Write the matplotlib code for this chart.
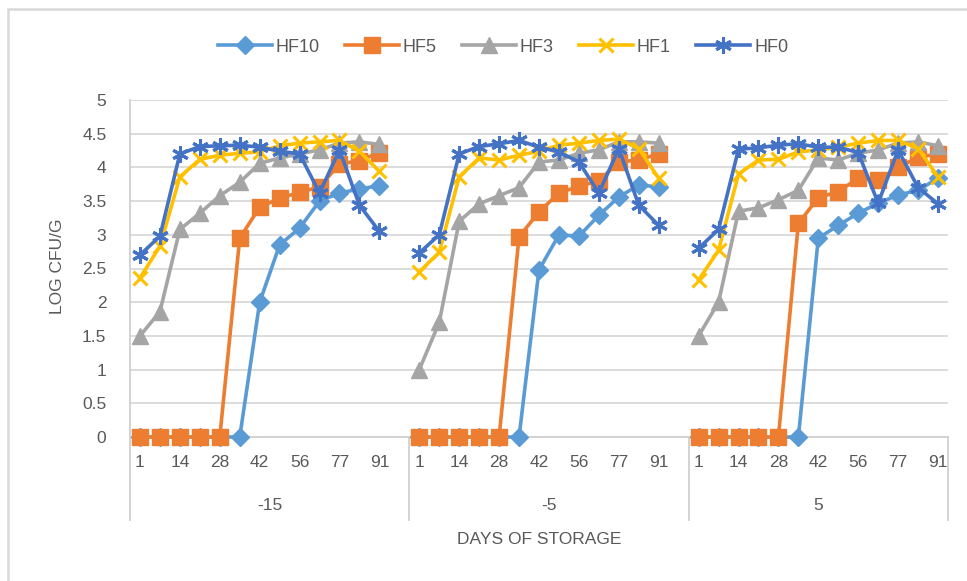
import numpy as np
import matplotlib
matplotlib.use("Agg")
import matplotlib.pyplot as plt
from matplotlib.patches import Rectangle
import matplotlib.transforms as mtransforms

plt.rcParams['font.family'] = ['Liberation Sans', 'DejaVu Sans']

# ---- data ----
temps = ["-15", "-5", "5"]
days = ["1", "7", "14", "21", "28", "35", "42", "49", "56", "63", "77", "84", "91"]
slots = [14, 14, 13]          # category slots per group (last slot of first two groups is blank)
series_names = ["HF10", "HF5", "HF3", "HF1", "HF0"]

hf10 = [[0, 0, 0, 0, 0, 0, 2.0, 2.85, 3.1, 3.5, 3.62, 3.68, 3.73],
        [0, 0, 0, 0, 0, 0, 2.48, 3.0, 2.98, 3.29, 3.56, 3.74, 3.71],
        [0, 0, 0, 0, 0, 0, 2.95, 3.14, 3.32, 3.47, 3.59, 3.66, 3.84]]
hf5 = [[0, 0, 0, 0, 0, 2.95, 3.41, 3.54, 3.63, 3.71, 4.05, 4.1, 4.22],
       [0, 0, 0, 0, 0, 2.97, 3.34, 3.62, 3.72, 3.8, 4.08, 4.11, 4.2],
       [0, 0, 0, 0, 0, 3.17, 3.55, 3.64, 3.84, 3.82, 4.0, 4.15, 4.2]]
hf3 = [[1.5, 1.86, 3.08, 3.32, 3.58, 3.78, 4.06, 4.14, 4.2, 4.26, 4.36, 4.38, 4.34],
       [1.0, 1.7, 3.2, 3.46, 3.58, 3.7, 4.08, 4.11, 4.21, 4.26, 4.38, 4.38, 4.36],
       [1.5, 2.0, 3.35, 3.4, 3.52, 3.66, 4.14, 4.11, 4.21, 4.26, 4.36, 4.38, 4.32]]
hf1 = [[2.36, 2.83, 3.86, 4.12, 4.18, 4.21, 4.23, 4.32, 4.36, 4.38, 4.4, 4.24, 3.94],
       [2.45, 2.74, 3.86, 4.14, 4.11, 4.18, 4.24, 4.33, 4.36, 4.4, 4.42, 4.28, 3.84],
       [2.33, 2.77, 3.9, 4.11, 4.12, 4.23, 4.26, 4.3, 4.36, 4.4, 4.4, 4.28, 3.86]]
hf0 = [[2.7, 2.98, 4.2, 4.31, 4.32, 4.33, 4.3, 4.24, 4.2, 3.62, 4.26, 3.44, 3.05],
       [2.73, 3.0, 4.2, 4.31, 4.35, 4.4, 4.3, 4.23, 4.08, 3.62, 4.28, 3.44, 3.14],
       [2.8, 3.08, 4.27, 4.29, 4.33, 4.35, 4.3, 4.3, 4.22, 3.47, 4.26, 3.7, 3.46]]

all_series = [hf10, hf5, hf3, hf1, hf0]
colors = ["#5B9BD5", "#ED7D31", "#A5A5A5", "#FFC000", "#4472C4"]
markers = ["D", "s", "^", "x", (6, 2, 0)]
msizes = [9, 12, 12, 10, 12]

# flatten groups into slot positions with blanks
def flatten(groups):
    out = []
    for g, vals in zip(range(len(groups)), groups):
        out.extend(vals)
        out.extend([np.nan] * (slots[g] - len(vals)))
    return np.array(out, dtype=float)

xpos = np.arange(sum(slots))

W, H = 967, 581
fig = plt.figure(figsize=(W / 100, H / 100), dpi=100)
L, R, T, B = 130, 948, 100, 437
ax = fig.add_axes([L / W, 1 - B / H, (R - L) / W, (B - T) / H])

grid_c = "#D9D9D9"
txt_c = "#595959"

for name, grp, c, m, ms in zip(series_names, all_series, colors, markers, msizes):
    y = flatten(grp)
    mew = 2.2 if m in ("x",) or isinstance(m, tuple) else 1
    ax.plot(xpos, y, color=c, lw=2.6, marker=m, markersize=ms,
            markerfacecolor=c, markeredgecolor=c, markeredgewidth=mew,
            label=name, solid_joinstyle='round', clip_on=False, zorder=3)

ax.set_xlim(-0.5, sum(slots) - 0.5)
ax.set_ylim(0, 5)
ax.set_yticks(np.arange(0, 5.01, 0.5))
ax.set_yticklabels([f"{v:g}" for v in np.arange(0, 5.01, 0.5)])
ax.yaxis.grid(True, color=grid_c, lw=1.3)
ax.set_axisbelow(True)
for s in ax.spines.values():
    s.set_visible(False)
ax.tick_params(axis='y', length=0, pad=17, labelsize=12.5, labelcolor=txt_c)

# x tick labels (every other day)
ticks, labels = [], []
off = 0
for g in range(len(temps)):
    for i in range(len(days)):
        ticks.append(off + i)
        labels.append(days[i] if i % 2 == 0 else "")
    off += slots[g]
ax.set_xticks(ticks)
ax.set_xticklabels(labels)
ax.tick_params(axis='x', length=0, pad=13, labelsize=12.5, labelcolor=txt_c)

trans = mtransforms.blended_transform_factory(ax.transData, ax.transAxes)
line_c = "#D0D0D0"
ybot = -(520 - B) / (B - T)
# axis line at 0
ax.plot([-0.5, sum(slots) - 0.5], [0, 0], color=line_c, lw=1.3, clip_on=False, zorder=1)
# left axis line full height
ax.plot([-0.5, -0.5], [ybot, 1], transform=trans, color=line_c, lw=1.3, clip_on=False, zorder=1)
# group dividers
off = 0
for g in range(len(temps)):
    off += slots[g]
    ax.plot([off - 0.5, off - 0.5], [ybot, 0], transform=trans, color=line_c, lw=1.3,
            clip_on=False, zorder=1)
# group labels
off = 0
for g, t in enumerate(temps):
    ax.text(off + (slots[g] - 1) / 2, -(505 - B) / (B - T), t, transform=trans,
            ha='center', va='center', fontsize=12.5, color=txt_c)
    off += slots[g]

fig.text(539 / W, 1 - 540 / H, "DAYS OF STORAGE", ha='center', va='center',
         fontsize=12.5, color=txt_c)
fig.text(57 / W, 1 - 266 / H, "LOG CFU/G", ha='center', va='center', rotation=90,
         fontsize=12.5, color=txt_c)

leg = fig.legend(loc='center', bbox_to_anchor=(503 / W, 1 - 47 / H), ncol=5, frameon=False,
                 fontsize=13, handlelength=3.0, handletextpad=0.2, columnspacing=1.4,
                 labelcolor=txt_c)

fig.patches.append(Rectangle((8 / W, -0.1), 1.2, (1 - 9 / H) + 0.1, transform=fig.transFigure,
                             fill=False, edgecolor=grid_c, lw=1.8))

fig.savefig("out.png", dpi=100, facecolor='white')
